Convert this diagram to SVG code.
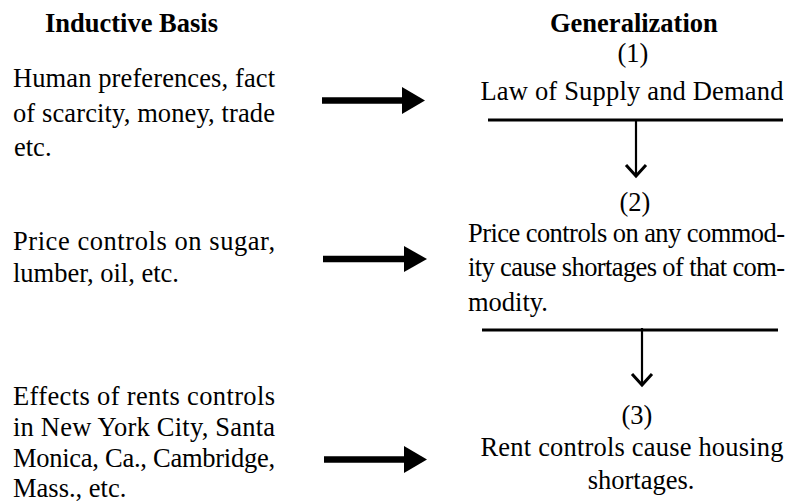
<svg xmlns="http://www.w3.org/2000/svg" width="806" height="502" viewBox="0 0 806 502">
<style>
text{font-family:"Liberation Serif","Times New Roman",serif;font-size:26.5px;fill:#000}
.h{font-weight:bold}
.c{text-anchor:middle}
.bar{stroke:#000;stroke-width:3;fill:none}
.stem{stroke:#000;stroke-width:2.2;fill:none}
.chev{stroke:#000;stroke-width:3;fill:none;stroke-linejoin:miter}
.shaft{stroke:#000;stroke-width:6.5;fill:none}
.head{fill:#000}
</style>
<rect width="806" height="502" fill="#fff"/>
<g id="headers">
<text class="h" x="45" y="32">Inductive Basis</text>
<text class="h" x="550" y="32">Generalization</text>
</g>
<g id="basis1">
<text x="13" y="87" textLength="262" lengthAdjust="spacing">Human preferences, fact</text>
<text x="13" y="122" textLength="262" lengthAdjust="spacing">of scarcity, money, trade</text>
<text x="14" y="156">etc.</text>
</g>
<g id="basis2">
<text x="13" y="250" textLength="262" lengthAdjust="spacing">Price controls on sugar,</text>
<text x="13" y="282">lumber, oil, etc.</text>
</g>
<g id="basis3">
<text x="13" y="405" textLength="262" lengthAdjust="spacing">Effects of rents controls</text>
<text x="13" y="436" textLength="262" lengthAdjust="spacing">in New York City, Santa</text>
<text x="13" y="467" textLength="262" lengthAdjust="spacing">Monica, Ca., Cambridge,</text>
<text x="13" y="497">Mass., etc.</text>
</g>
<g id="gen1">
<text class="c" x="633" y="62">(1)</text>
<text class="c" x="632" y="100" textLength="303" lengthAdjust="spacing">Law of Supply and Demand</text>
</g>
<g id="gen2">
<text class="c" x="635" y="211">(2)</text>
<text x="468" y="242" textLength="317" lengthAdjust="spacing">Price controls on any commod-</text>
<text x="468" y="276" textLength="317" lengthAdjust="spacing">ity cause shortages of that com-</text>
<text x="468" y="311">modity.</text>
</g>
<g id="gen3">
<text class="c" x="637" y="424">(3)</text>
<text class="c" x="632" y="456" textLength="303" lengthAdjust="spacing">Rent controls cause housing</text>
<text class="c" x="641" y="489">shortages.</text>
</g>
<g id="connectors">
<line class="shaft" x1="322" y1="100.5" x2="404" y2="100.5"/>
<polygon class="head" points="402,87 425,100.5 402,114"/>
<line class="shaft" x1="323" y1="259" x2="405" y2="259"/>
<polygon class="head" points="404,246 427,259 404,272"/>
<line class="shaft" x1="324" y1="459.5" x2="405" y2="459.5"/>
<polygon class="head" points="404,446 427,459.5 404,473"/>
<line class="bar" x1="488" y1="120" x2="783" y2="120"/>
<line class="stem" x1="636" y1="120" x2="636" y2="176"/>
<polyline class="chev" points="626,165 636,176 646,165"/>
<line class="bar" x1="482" y1="330" x2="778" y2="330"/>
<line class="stem" x1="642" y1="328" x2="642" y2="385"/>
<polyline class="chev" points="632,374 642,385 652,374"/>
</g>
</svg>
